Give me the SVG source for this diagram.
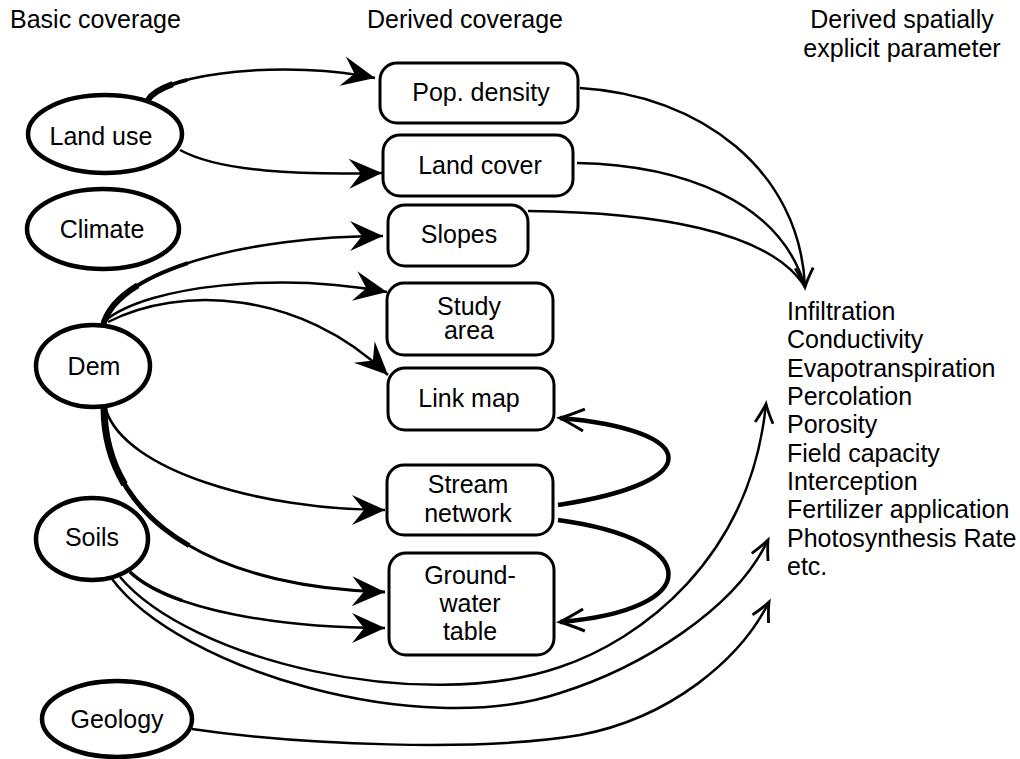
<svg xmlns="http://www.w3.org/2000/svg" width="1020" height="759" viewBox="0 0 1020 759">
<style>
text{font-family:"Liberation Sans",Arial,Helvetica,sans-serif;font-size:25px;fill:#000}
.m{text-anchor:middle}
.node ellipse{fill:#fff;stroke:#000;stroke-width:4.5}
.node rect{fill:#fff;stroke:#000;stroke-width:3}
.c{fill:none;stroke:#000;stroke-width:2.5;stroke-linecap:butt}
.t1{fill:none;stroke:#000;stroke-width:4;stroke-dasharray:70 3000}
.t2{fill:none;stroke:#000;stroke-width:6;stroke-dasharray:30 3000}
.loop{fill:none;stroke:#000;stroke-width:4.5}
</style>
<defs>
<marker id="st" markerUnits="userSpaceOnUse" viewBox="-36 -18 38 36" markerWidth="38" markerHeight="36" refX="0" refY="0" orient="auto" overflow="visible">
<path d="M0,0 L-33,-15 L-21,0 L-33,15 Z" fill="#000"/>
</marker>
<marker id="vee" markerUnits="userSpaceOnUse" viewBox="-22 -12 26 24" markerWidth="26" markerHeight="24" refX="0" refY="0" orient="auto" overflow="visible">
<path d="M-19,-9 Q-8,-3 0,0 Q-8,3 -19,9" fill="none" stroke="#000" stroke-width="2.8"/>
</marker>
<marker id="veeL" markerUnits="userSpaceOnUse" viewBox="-28 -14 32 28" markerWidth="32" markerHeight="28" refX="0" refY="0" orient="auto" overflow="visible">
<path d="M-24,-11 Q-10,-4 0,0 Q-10,4 -24,11" fill="none" stroke="#000" stroke-width="3"/>
</marker>
</defs>
<rect width="1020" height="759" fill="#fff"/>

<g id="headers">
<text x="10" y="28">Basic coverage</text>
<text class="m" x="465" y="28">Derived coverage</text>
<text class="m" x="902" y="28">Derived spatially</text>
<text class="m" x="902" y="57">explicit parameter</text>
</g>

<g id="connectors">
<!-- Land use -> Pop. density -->
<path class="c" d="M148,100 C165,72 290,60 375,78" marker-end="url(#st)"/>
<path class="t2" d="M148,100 C165,72 290,60 375,78"/>
<path class="t1" d="M148,100 C165,72 290,60 375,78" style="stroke-dasharray:45 3000"/>
<!-- Land use -> Land cover -->
<path class="c" d="M180,150 C220,172 300,175 382,173" marker-end="url(#st)"/>
<!-- Dem -> Slopes -->
<path class="c" d="M103,326 C115,270 250,236 383,236" marker-end="url(#st)"/>
<path class="t1" d="M103,326 C115,270 250,236 383,236" style="stroke-dasharray:110 3000"/>
<path class="t2" d="M103,326 C115,270 250,236 383,236" style="stroke-dasharray:55 3000"/>
<!-- Dem -> Study area -->
<path class="c" d="M106,320 C150,285 280,272 387,292" marker-end="url(#st)"/>
<!-- Dem -> Link map -->
<path class="c" d="M108,322 C180,285 300,290 388,375" marker-end="url(#st)"/>
<!-- Dem -> Stream network -->
<path class="c" d="M106,410 C125,470 260,510 385,510" marker-end="url(#st)"/>
<!-- Dem -> Ground-water table -->
<path class="c" d="M104,408 C105,530 230,588 385,592" marker-end="url(#st)" style="stroke-width:3"/>
<path class="t1" d="M104,408 C105,530 230,588 385,592" style="stroke-width:5;stroke-dasharray:170 3000"/>
<path class="t2" d="M104,408 C105,530 230,588 385,592" style="stroke-width:7;stroke-dasharray:80 3000"/>
<!-- Soils -> Ground-water table -->
<path class="c" d="M130,572 C170,610 280,628 385,628" marker-end="url(#st)"/>
<path class="t1" d="M130,572 C170,610 280,628 385,628" style="stroke-width:3.5;stroke-dasharray:60 3000"/>
<!-- Soils -> parameters (upper) -->
<path class="c" d="M120,577 C190,660 420,715 560,667 C640,640 750,560 766,404" marker-end="url(#vee)"/>
<!-- Soils -> parameters (lower) -->
<path class="c" d="M112,579 C180,670 420,740 560,693 C640,668 735,610 768,540" marker-end="url(#vee)"/>
<!-- Geology -> parameters -->
<path class="c" d="M192,729 C300,745 480,752 580,735 C670,718 740,660 769,602" marker-end="url(#vee)"/>
<!-- Stream network -> Link map -->
<path class="loop" d="M558,505 C710,482 700,430 560,418" marker-end="url(#veeL)"/>
<!-- Stream network -> Ground-water table -->
<path class="loop" d="M558,520 C705,540 705,610 560,622" marker-end="url(#veeL)"/>
<!-- Derived coverages -> parameters -->
<path class="c" d="M580,88 C700,95 800,170 805,287" marker-end="url(#vee)"/>
<path class="c" d="M577,163 C680,165 780,200 805,287"/>
<path class="c" d="M528,211 C650,212 770,230 805,287"/>
</g>

<g id="landuse" class="node"><ellipse cx="105" cy="134" rx="77" ry="39"/><text class="m" x="101" y="145">Land use</text></g>
<g id="climate" class="node"><ellipse cx="103" cy="229" rx="76" ry="40"/><text class="m" x="102" y="238">Climate</text></g>
<g id="dem" class="node"><ellipse cx="93" cy="366" rx="57" ry="41"/><text class="m" x="94" y="375">Dem</text></g>
<g id="soils" class="node"><ellipse cx="92" cy="539" rx="56" ry="41"/><text class="m" x="92" y="546">Soils</text></g>
<g id="geology" class="node"><ellipse cx="117" cy="719" rx="75" ry="38"/><text class="m" x="117" y="728">Geology</text></g>

<g id="popdensity" class="node"><rect x="380" y="63" width="198" height="60" rx="17"/><text class="m" x="481" y="101">Pop. density</text></g>
<g id="landcover" class="node"><rect x="383" y="135" width="190" height="61" rx="17"/><text class="m" x="480" y="174">Land cover</text></g>
<g id="slopes" class="node"><rect x="388" y="205" width="140" height="61" rx="17"/><text class="m" x="459" y="243">Slopes</text></g>
<g id="studyarea" class="node"><rect x="387" y="283" width="166" height="72" rx="17"/><text class="m" x="469" y="315">Study</text><text class="m" x="469" y="339">area</text></g>
<g id="linkmap" class="node"><rect x="388" y="368" width="166" height="62" rx="17"/><text class="m" x="469" y="407">Link map</text></g>
<g id="streamnetwork" class="node"><rect x="387" y="465" width="166" height="70" rx="17"/><text class="m" x="468" y="493">Stream</text><text class="m" x="468" y="522">network</text></g>
<g id="groundwater" class="node"><rect x="389" y="553" width="165" height="102" rx="17"/><text class="m" x="470" y="584">Ground-</text><text class="m" x="470" y="612">water</text><text class="m" x="470" y="640">table</text></g>

<g id="parameters">
<text x="787" y="320">Infiltration</text>
<text x="787" y="348">Conductivity</text>
<text x="787" y="377">Evapotranspiration</text>
<text x="787" y="405">Percolation</text>
<text x="787" y="433">Porosity</text>
<text x="787" y="462">Field capacity</text>
<text x="787" y="490">Interception</text>
<text x="787" y="518">Fertilizer application</text>
<text x="787" y="547">Photosynthesis Rate</text>
<text x="787" y="575">etc.</text>
</g>
</svg>
